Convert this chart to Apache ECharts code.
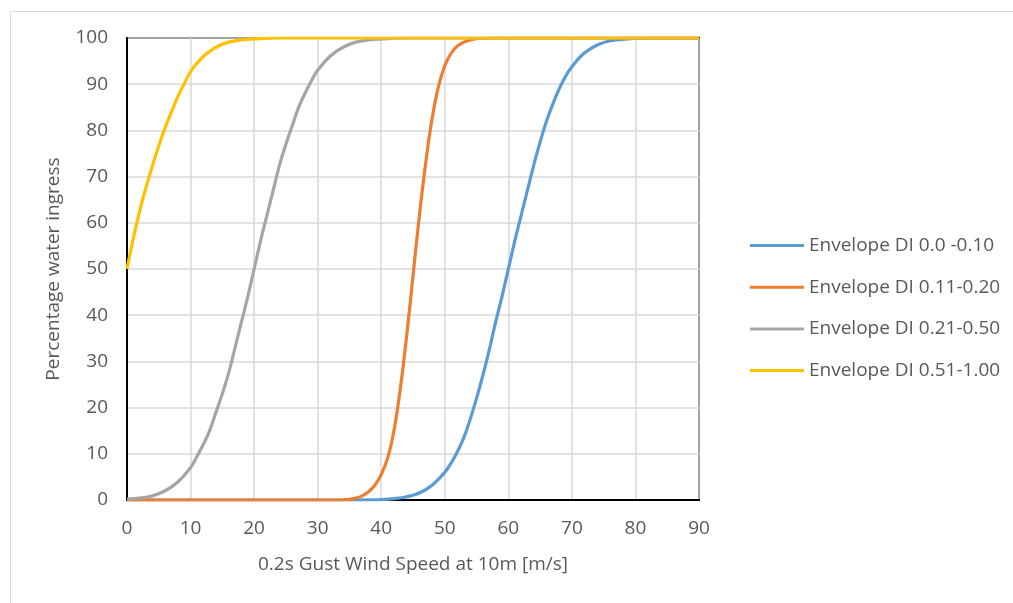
<!DOCTYPE html>
<html>
<head>
<meta charset="utf-8">
<script src="https://cdn.jsdelivr.net/npm/echarts@6/dist/echarts.min.js"></script>
<style>html,body{margin:0;padding:0;background:#fff;}#c{width:1013px;height:603px;}</style>
</head>
<body>
<div id="c"></div>
<script>
var seriesNames = ['Envelope DI 0.0 -0.10', 'Envelope DI 0.11-0.20', 'Envelope DI 0.21-0.50', 'Envelope DI 0.51-1.00'];
var xTicks = [0, 10, 20, 30, 40, 50, 60, 70, 80, 90];
var yTicks = [0, 10, 20, 30, 40, 50, 60, 70, 80, 90, 100];

var blueX = [0,36,38,40,42,44,46,48,50,51,52,53,54,55,56,57,58,59,60,61,62,63,64,65,66,67,68,69,70,72,74,76,78,80,84,90];
var blueY = [0,0,0.03,0.1,0.3,0.7,1.5,3.2,6,8,10.5,13.5,17.5,22,27,32.5,38.5,44,50,56,61.5,67,72.5,77.5,82,85.7,89,91.7,93.8,96.8,98.5,99.4,99.7,99.9,100,100];

var orangeX = [0,33,34,35,36,37,38,39,40,41,42,43,44,45,46,47,48,49,50,51,52,53,54,55,57,90];
var orangeY = [0,0,0.05,0.15,0.4,0.9,1.8,3.2,5.5,9,15,24,35.5,48.5,61.5,73,82.5,89.5,94,96.7,98.3,99.1,99.6,99.85,100,100];

var grayX = [0,2,4,6,8,10,11,12,13,14,15,16,17,18,19,20,21,22,23,24,25,26,27,28,29,30,32,34,36,38,40,44,90];
var grayY = [0.2,0.4,0.9,2,3.9,7,9.4,12,15,19,23,27.5,33,38.5,44,50,56,61.5,67,72.5,77,81,85,88,90.7,93,96.1,98,99.1,99.6,99.8,100,100];

var yellowX = [0,1,2,3,4,5,6,7,8,9,10,11,12,13,14,16,18,20,24,90];
var yellowY = [50,56.7,62.6,67.7,72.3,76.7,80.6,84,87.3,90.1,92.7,94.5,96,97.1,98,99.1,99.6,99.8,100,100];

var colors = ['#5B9BD5', '#ED7D31', '#A5A5A5', '#FFC000'];
function zip(xs, ys) { return xs.map(function (x, i) { return [x, ys[i]]; }); }
var allX = [blueX, orangeX, grayX, yellowX];
var allY = [blueY, orangeY, grayY, yellowY];

var FONT = 'Open Sans';
var FS = 19;
var chart = echarts.init(document.getElementById('c'), null, {renderer: 'canvas'});
chart.setOption({
  animation: false,
  backgroundColor: '#fff',
  color: colors,
  graphic: [{
    type: 'rect', left: 8, top: 9, z: -10,
    shape: {width: 1030, height: 620},
    style: {fill: 'none', stroke: '#D9D9D9', lineWidth: 1}
  }],
  grid: {left: 127, right: 314, top: 38, bottom: 103, show: true, borderColor: '#000', borderWidth: 2, backgroundColor: 'transparent'},
  legend: {
    orient: 'vertical', left: 745, top: 231,
    icon: 'rect', itemWidth: 54, itemHeight: 3, itemGap: 22.7,
    data: seriesNames,
    textStyle: {fontFamily: FONT, fontSize: FS, color: '#595959'}
  },
  xAxis: {
    type: 'value', min: xTicks[0], max: xTicks[xTicks.length - 1], interval: 10,
    name: '0.2s Gust Wind Speed at 10m [m/s]', nameLocation: 'middle', nameGap: 55,
    nameTextStyle: {fontFamily: FONT, fontSize: FS, color: '#595959'},
    axisLine: {show: true, lineStyle: {color: '#000', width: 2}},
    axisTick: {show: false},
    axisLabel: {fontFamily: FONT, fontSize: FS, color: '#595959', margin: 19},
    splitLine: {show: true, lineStyle: {color: '#D9D9D9', width: 1.5}}
  },
  yAxis: {
    type: 'value', min: yTicks[0], max: yTicks[yTicks.length - 1], interval: 10,
    name: 'Percentage water ingress', nameLocation: 'middle', nameGap: 64,
    nameTextStyle: {fontFamily: FONT, fontSize: FS, color: '#595959'},
    axisLine: {show: true, lineStyle: {color: '#000', width: 2}},
    axisTick: {show: false},
    axisLabel: {fontFamily: FONT, fontSize: FS, color: '#595959', margin: 19},
    splitLine: {show: true, lineStyle: {color: '#D9D9D9', width: 1.5}}
  },
  series: seriesNames.map(function (n, i) {
    return {
      name: n, type: 'line', data: zip(allX[i], allY[i]),
      symbol: 'none', smooth: 0.4,
      lineStyle: {color: colors[i], width: 3.2},
      itemStyle: {color: colors[i]}
    };
  })
});
</script>
</body>
</html>
